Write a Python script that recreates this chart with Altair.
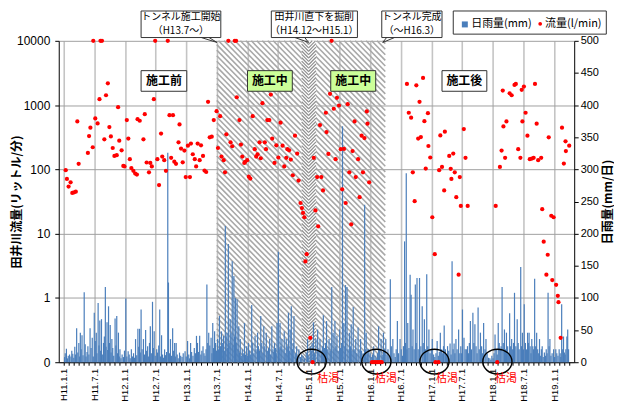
import math
import pandas as pd
import altair as alt

# ---------------- data ----------------
# day = days elapsed since 1999-01-01 (H11.1.1)
# flow in l/min ; 0 = dried up (枯渇) ; 10000 = off-scale top
flow_obs = [
    (12, 97), (19, 71), (29, 54), (41, 63), (51, 43), (62, 44), (72, 45), (81, 557), (89, 122),
    (144, 180), (151, 330), (159, 445), (173, 221), (176, 10000), (188, 621), (202, 519), (213, 1234),
    (219, 10000), (228, 10000), (242, 293), (252, 1423), (263, 2183), (272, 455), (281, 326), (292, 215),
    (302, 162), (316, 166), (324, 928), (331, 280), (345, 198), (355, 113), (362, 111), (376, 584),
    (385, 301), (394, 144), (403, 105), (415, 95), (426, 86), (436, 83), (440, 605), (453, 571),
    (475, 293), (483, 723), (494, 128), (508, 90), (516, 126), (525, 111), (537, 1234), (545, 10000),
    (558, 144), (568, 57), (580, 360), (587, 158), (599, 139), (609, 95), (620, 10000), (630, 698),
    (640, 151), (651, 698), (659, 132), (669, 122), (684, 264), (690, 501), (699, 211), (709, 129),
    (719, 196), (727, 76), (740, 234), (752, 76), (758, 252), (769, 172), (781, 144), (789, 111),
    (798, 252), (810, 139), (818, 237), (830, 162), (839, 96), (849, 91), (860, 1125), (870, 315),
    (882, 323), (894, 584), (911, 805), (919, 215), (932, 673), (940, 158), (953, 139), (961, 90),
    (969, 351), (981, 10000), (994, 264), (1004, 229), (1019, 10000), (1027, 10000), (1031, 1325),
    (1047, 584), (1056, 243), (1064, 158), (1076, 126), (1081, 131), (1093, 139), (1103, 77),
    (1112, 72), (1126, 673), (1138, 206), (1147, 158), (1155, 172), (1167, 264), (1174, 149),
    (1184, 1070), (1198, 264), (1205, 206), (1213, 584), (1225, 584), (1234, 1459), (1242, 301),
    (1256, 126), (1267, 237), (1279, 153), (1292, 532), (1304, 234), (1314, 111), (1326, 151),
    (1333, 206), (1343, 198), (1353, 142), (1365, 81), (1378, 335), (1391, 176), (1399, 67),
    (1411, 30), (1419, 25), (1426, 21), (1434, 18), (1440, 3.7), (1448, 4.8), (1469, 0.24),
    (1483, 0), (1490, 151), (1500, 23), (1510, 76), (1516, 13), (1527, 489), (1535, 76), (1545, 47),
    (1562, 760), (1566, 380), (1577, 174), (1587, 1496), (1596, 10000), (1609, 877), (1620, 144),
    (1628, 1297), (1640, 986), (1651, 206), (1659, 49), (1670, 208), (1680, 30), (1692, 1033),
    (1702, 90), (1713, 14), (1721, 193), (1733, 557), (1740, 76), (1754, 144), (1763, 37),
    (1775, 335), (1783, 90), (1792, 307), (1806, 796), (1810, 514), (1820, 63),
    (1837, 0), (1849, 0), (1860, 0), (1872, 0), (1884, 0), (1895, 0),
    (2045, 2138), (2056, 760), (2070, 636), (2080, 90), (2091, 32), (2101, 2032), (2112, 301),
    (2120, 1125), (2128, 318), (2141, 2648), (2149, 563), (2157, 103), (2170, 750), (2173, 231),
    (2184, 153), (2196, 18), (2211, 4.8), (2215, 0), (2233, 0), (2237, 97), (2244, 338), (2254, 109),
    (2267, 47), (2271, 386), (2297, 162), (2306, 102), (2310, 71), (2321, 176), (2330, 90),
    (2339, 37), (2353, 2.3), (2360, 76), (2366, 27), (2384, 424), (2394, 151), (2407, 27),
    (2574, 27), (2583, 0), (2599, 109), (2609, 196), (2616, 1683), (2620, 466), (2630, 151),
    (2638, 557), (2657, 1528), (2669, 1423), (2686, 2061), (2694, 2138), (2708, 206), (2721, 151),
    (2729, 1726), (2733, 557), (2742, 1941), (2752, 760), (2763, 335), (2777, 144), (2789, 147),
    (2800, 151), (2808, 2138), (2818, 514), (2827, 139), (2845, 151), (2851, 24), (2860, 7.5),
    (2876, 2.3), (2884, 4.7), (2890, 315), (2905, 19), (2911, 1.9), (2919, 18), (2934, 1.6),
    (2944, 1.08), (2948, 0.86), (2961, 0.24), (2969, 445), (2980, 123), (2990, 273), (2992, 193),
    (3012, 234),
]

# daily rainfall (mm/day): the visible peaks ...
rain_peaks = [
    (16, 21), (35, 12), (54, 13), (77, 53), (99, 46), (109, 42), (122, 109), (144, 25), (157, 53),
    (170, 38), (182, 77), (194, 46), (205, 92), (215, 65), (225, 67), (237, 30), (248, 117),
    (258, 62), (267, 87), (277, 58), (287, 36), (306, 68), (316, 72), (326, 46), (335, 20),
    (370, 99), (384, 17), (403, 20), (428, 36), (442, 52), (452, 52), (461, 82), (475, 36),
    (488, 50), (500, 25), (516, 56), (529, 94), (539, 48), (554, 20), (572, 82), (583, 42),
    (601, 20), (620, 326), (624, 124), (636, 36), (649, 53), (661, 30), (670, 30), (690, 15),
    (723, 17), (738, 33), (756, 30), (791, 41), (810, 41), (830, 25), (853, 121), (864, 46),
    (878, 38), (888, 61), (899, 48), (917, 36), (928, 72), (940, 48), (952, 41), (963, 212),
    (973, 46), (981, 184), (992, 67), (1004, 157), (1014, 134), (1023, 100), (1033, 98),
    (1043, 56), (1052, 36), (1077, 61), (1101, 30), (1120, 89), (1140, 41), (1155, 46),
    (1174, 72), (1192, 56), (1207, 46), (1227, 36), (1240, 56), (1256, 30), (1271, 61),
    (1279, 172), (1289, 61), (1300, 36), (1314, 48), (1326, 36), (1339, 77), (1349, 51),
    (1356, 87), (1372, 72), (1388, 25), (1401, 20), (1426, 10), (1453, 36), (1469, 25),
    (1488, 62), (1502, 36), (1513, 51), (1527, 36), (1547, 73), (1566, 64), (1581, 36),
    (1597, 117), (1605, 46), (1616, 64), (1628, 41), (1644, 51), (1661, 367), (1669, 61),
    (1679, 120), (1688, 117), (1702, 46), (1713, 59), (1725, 86), (1740, 36), (1754, 54),
    (1769, 36), (1793, 245), (1802, 46), (1818, 20), (1847, 25), (1876, 56), (1891, 36),
    (1905, 46), (1919, 36), (1946, 129), (1961, 36), (1988, 64), (2004, 36), (2031, 188),
    (2041, 294), (2050, 61), (2064, 136), (2070, 105), (2081, 51), (2095, 121), (2105, 131),
    (2120, 131), (2136, 87), (2149, 67), (2163, 137), (2176, 51), (2196, 36), (2225, 33),
    (2244, 46), (2263, 25), (2267, 57), (2287, 25), (2302, 29), (2314, 157), (2326, 29),
    (2337, 36), (2353, 51), (2376, 82), (2385, 38), (2399, 20), (2423, 64), (2438, 77),
    (2450, 59), (2469, 85), (2483, 46), (2502, 61), (2516, 36), (2531, 7), (2570, 43),
    (2589, 61), (2612, 117), (2626, 51), (2638, 46), (2657, 76), (2669, 36), (2686, 108),
    (2702, 67), (2723, 148), (2733, 46), (2744, 90), (2764, 46), (2773, 46), (2789, 36),
    (2806, 130), (2818, 46), (2835, 36), (2851, 25), (2864, 15), (2886, 108), (2897, 36),
    (2919, 20), (2932, 20), (2952, 20), (2967, 90), (2983, 15), (2992, 20), (3003, 51),
]
# ... and the dense small daily amounts between them
rain_small = [
    (5, 8), (9, 14), (22, 6), (27, 10), (43, 9), (48, 18), (60, 7), (66, 24), (71, 12), (84, 15),
    (90, 30), (95, 9), (104, 20), (115, 11), (128, 28), (133, 9), (139, 16), (150, 12), (163, 22),
    (176, 9), (188, 33), (198, 14), (210, 26), (220, 18), (230, 12), (242, 40), (252, 24),
    (262, 19), (272, 30), (282, 15), (292, 22), (298, 10), (311, 26), (321, 14), (331, 9),
    (341, 6), (348, 12), (356, 8), (362, 18), (376, 9), (390, 12), (396, 6), (410, 9), (416, 14),
    (422, 7), (435, 11), (447, 24), (456, 15), (467, 20), (481, 12), (494, 18), (506, 9),
    (511, 30), (522, 14), (534, 22), (545, 10), (559, 15), (566, 26), (577, 9), (589, 12),
    (595, 7), (607, 11), (613, 16), (630, 14), (642, 10), (655, 18), (665, 9), (676, 12),
    (682, 6), (697, 10), (705, 8), (712, 14), (730, 9), (745, 12), (750, 6), (762, 16), (770, 10),
    (778, 22), (785, 14), (797, 30), (803, 16), (817, 12), (823, 18), (836, 14), (842, 10),
    (848, 20), (858, 30), (870, 26), (883, 14), (893, 22), (905, 30), (910, 18),
    (922, 20), (934, 25), (945, 30), (957, 18), (967, 40), (977, 22), (986, 30), (997, 45),
    (1008, 26), (1018, 40), (1028, 30), (1038, 20), (1047, 15), (1058, 10), (1064, 20),
    (1070, 14), (1083, 12), (1090, 25), (1096, 10), (1108, 18), (1114, 12), (1126, 30),
    (1133, 14), (1146, 20), (1160, 25), (1167, 18), (1180, 30), (1186, 14), (1198, 25),
    (1213, 18), (1220, 22), (1233, 12), (1247, 20), (1252, 16), (1262, 22), (1266, 14),
    (1284, 20), (1295, 25), (1307, 20), (1320, 14), (1332, 25), (1344, 18), (1362, 20),
    (1367, 30), (1380, 14), (1394, 10), (1410, 8), (1418, 12), (1435, 6), (1445, 15), (1460, 10),
    (1475, 18), (1480, 30), (1495, 14), (1520, 20), (1535, 18), (1541, 25), (1553, 22),
    (1560, 30), (1573, 20), (1588, 18), (1593, 30), (1610, 20), (1622, 25), (1635, 18),
    (1650, 22), (1656, 30), (1675, 25), (1694, 20), (1708, 25), (1718, 18), (1731, 20),
    (1746, 14), (1760, 20), (1775, 18), (1785, 14), (1797, 20), (1808, 12), (1812, 20),
    (1826, 14), (1832, 8), (1840, 12), (1855, 10), (1862, 6), (1869, 14), (1882, 20), (1898, 12),
    (1912, 20), (1926, 12), (1932, 20), (1938, 10), (1952, 25), (1968, 14), (1975, 8), (1981, 20),
    (1995, 14), (2011, 20), (2018, 10), (2024, 25), (2036, 30), (2045, 20), (2057, 22), (2076, 25),
    (2088, 20), (2100, 30), (2112, 20), (2128, 25), (2142, 30), (2155, 20), (2169, 25),
    (2183, 14), (2190, 20), (2204, 12), (2211, 8), (2218, 14), (2232, 10), (2238, 16), (2252, 20),
    (2258, 14), (2274, 20), (2280, 12), (2294, 18), (2308, 12), (2320, 20), (2331, 14),
    (2344, 20), (2360, 14), (2366, 25), (2371, 14), (2392, 20), (2406, 25), (2412, 14),
    (2417, 30), (2430, 20), (2444, 30), (2457, 25), (2463, 14), (2476, 20), (2490, 25),
    (2496, 14), (2510, 20), (2523, 14), (2539, 6), (2545, 4), (2551, 10), (2558, 6), (2564, 14),
    (2577, 20), (2583, 12), (2595, 30), (2601, 20), (2606, 25), (2619, 30), (2632, 20),
    (2645, 25), (2651, 14), (2663, 25), (2675, 20), (2680, 30), (2694, 25), (2708, 30),
    (2714, 20), (2728, 25), (2739, 20), (2751, 30), (2758, 20), (2769, 30), (2779, 25),
    (2784, 14), (2795, 25), (2800, 20), (2812, 25), (2824, 20), (2830, 14), (2842, 10),
    (2846, 20), (2857, 8), (2870, 10), (2875, 20), (2880, 14), (2892, 25), (2903, 10),
    (2910, 14), (2925, 8), (2938, 14), (2945, 10), (2958, 14), (2962, 8), (2973, 20), (2978, 40),
    (2988, 12), (2998, 40), (3008, 20),
]

# construction periods (days since 1999-01-01)
construction_period = (912, 1916)      # H13.7 ~ H16.3
under_river_period = (1418, 1503)      # H14.12 ~ H15.1

stage_labels = ["施工前", "施工中", "施工中", "施工後"]
stage_fill = ["#ffffff", "#ccff99", "#ccff99", "#ffffff"]
callout_line1 = ["トンネル施工開始", "田井川直下を掘削", "トンネル完成"]
callout_line2 = ["（H13.7～）", "（H14.12～H15.1）", "（～H16.3）"]
dry_label = "枯渇"
legend_labels = ["日雨量(mm)", "流量(l/min)"]

# ---------------- layout helpers ----------------
JP = "Noto Sans CJK JP"
NUM = "Liberation Sans"
W, H = 518, 323
X_END = 3012
PX_DAY = W / X_END
PX_LY = H / 5.0

flow_df = pd.DataFrame(flow_obs, columns=["day", "lpm"])
flow_df["ly"] = [math.log10(v) if v > 0 else -1.0 for v in flow_df["lpm"]]
rain_df = pd.DataFrame(rain_peaks + rain_small, columns=["day", "mm"])


def stripes(d0, d1, step_px, down):
    xa, xb = d0 * PX_DAY, d1 * PX_DAY
    rows = []
    if down:   # "\"
        c = xa - H
        while c < xb:
            x1, x2 = max(xa, c), min(xb, c + H)
            if x2 > x1:
                rows.append({"day": x1 / PX_DAY, "day2": x2 / PX_DAY,
                             "ly": 4 - (x1 - c) / PX_LY, "ly2": 4 - (x2 - c) / PX_LY})
            c += step_px
    else:      # "/"
        c = xa
        while c < xb + H:
            x1, x2 = max(xa, c - H), min(xb, c)
            if x2 > x1:
                rows.append({"day": x1 / PX_DAY, "day2": x2 / PX_DAY,
                             "ly": 4 - (c - x1) / PX_LY, "ly2": 4 - (c - x2) / PX_LY})
            c += step_px
    return pd.DataFrame(rows)


c0, c1 = construction_period
u0, u1 = under_river_period
um = (u0 + u1) / 2
outer_df = stripes(c0, c1, 5.6, True)
inner_df = pd.concat([stripes(u0, um, 3.4, True), stripes(um, u1, 3.4, False)])

month_days = [(d - pd.Timestamp("1999-01-01")).days
              for d in pd.date_range("1999-01-01", "2007-04-01", freq="MS")]
HALF = "month(datetime(1999,0,1+datum.value)) % 6 == 0"
x_axis = alt.Axis(
    values=month_days,
    labelExpr=f"({HALF}) ? 'H' + (year(datetime(1999,0,1+datum.value)) - 1988) + '.' + "
              f"(month(datetime(1999,0,1+datum.value)) + 1) + '.1' : ''",
    labelAngle=-90, labelFont=NUM, labelFontSize=9.5, labelColor="black", labelOverlap=False,
    labelPadding=3, tickSize=3, tickColor="black", domainColor="black",
    grid=True, gridColor="#c4c4c4", gridWidth=1.6,
    gridOpacity={"condition": {"test": HALF, "value": 1}, "value": 0},
    title=None,
)
yl_axis = alt.Axis(
    orient="left", values=[-1, 0, 1, 2, 3, 4],
    labelExpr="datum.value < -0.5 ? '0' : format(pow(10, datum.value), 'd')",
    labelFont=NUM, labelFontSize=12, labelColor="black", labelPadding=5,
    tickSize=4, tickColor="black", domainColor="black",
    grid=True, gridColor="#a0a0a0", gridWidth=1,
    title="田井川流量(リットル/分)", titleFont=JP, titleFontSize=12, titleFontWeight="bold",
    titleColor="black", titleX=-42, titleY=H / 2, titleAlign="center", titleBaseline="middle",
    titleAngle=270,
)
yr_axis = alt.Axis(
    orient="right", values=list(range(0, 501, 50)),
    labelFont=NUM, labelFontSize=11, labelColor="black", labelPadding=2,
    tickSize=4, tickColor="black", domainColor="black", grid=False,
    title="日雨量(mm/日)", titleFont=JP, titleFontSize=12, titleFontWeight="bold",
    titleColor="black", titleX=33, titleY=H / 2, titleAlign="center", titleBaseline="middle",
    titleAngle=270,
)

x_scale = alt.Scale(domain=[0, X_END], nice=False, zero=False)
yl_scale = alt.Scale(domain=[-1, 4], nice=False, zero=False)
yr_scale = alt.Scale(domain=[0, 500], nice=False, zero=True)


def X():
    return alt.X("day:Q", scale=x_scale, axis=x_axis)


def YL(axis=None):
    return alt.Y("ly:Q", scale=yl_scale, axis=axis)


# ---------------- back layer: hatching (carries the left axis) ----------------
hatch = alt.Chart(outer_df).mark_rule(color="#a8a8a8", strokeWidth=1.6).encode(
    x=X(), x2="day2:Q", y=YL(yl_axis), y2="ly2:Q")
inner_bg = alt.Chart(pd.DataFrame([{"day": u0, "day2": u1, "ly": -1, "ly2": 4}])).mark_rect(
    color="white").encode(x=X(), x2="day2:Q", y=YL(yl_axis), y2="ly2:Q")
chevron = alt.Chart(inner_df).mark_rule(color="#8f8f8f", strokeWidth=1.2).encode(
    x=X(), x2="day2:Q", y=YL(yl_axis), y2="ly2:Q")
back = alt.layer(hatch, inner_bg, chevron)

# ---------------- rainfall bars ----------------
rain = alt.Chart(rain_df).mark_bar(size=1.2, color="#4a7ebb").encode(
    x=X(), y=alt.Y("mm:Q", scale=yr_scale, axis=yr_axis))

# ---------------- annotations (positions in data units) ----------------
stage_box = pd.DataFrame({
    "day": [461, 1095, 1591, 2254], "day2": [733, 1362, 1859, 2521],
    "ly": [3.215] * 4, "ly2": [3.536] * 4, "fill": stage_fill,
})
stage_txt = pd.DataFrame({
    "day": [597, 1228, 1725, 2387], "ly": [3.376] * 4, "text": stage_labels})
stage_rect = alt.Chart(stage_box).mark_rect(stroke="#333333", strokeWidth=1).encode(
    x=X(), x2="day2:Q", y=YL(), y2="ly2:Q", fill=alt.Fill("fill:N", scale=None))
stage_text = alt.Chart(stage_txt).mark_text(
    font=JP, fontSize=12, fontWeight="bold", color="black").encode(x=X(), y=YL(), text="text:N")

call_box = pd.DataFrame({
    "day": [461, 1237, 1895], "day2": [936, 1750, 2254], "ly": [4.051] * 3, "ly2": [4.464] * 3})
call_rect = alt.Chart(call_box).mark_rect(fill="white", stroke="#333333", strokeWidth=1).encode(
    x=X(), x2="day2:Q", y=YL(), y2="ly2:Q")
call_txt = pd.DataFrame({
    "day": [698, 1493, 2074] * 2, "ly": [4.372] * 3 + [4.150] * 3,
    "text": callout_line1 + callout_line2})
call_text = alt.Chart(call_txt).mark_text(font=JP, fontSize=10, color="black").encode(
    x=X(), y=YL(), text="text:N")
pointer_df = pd.DataFrame({
    "day": [820, 866, 1378, 1436, 1924, 1971],
    "ly": [4.051] * 6,
    "day2": [913, 913, 1459, 1459, 1901, 1901],
    "ly2": [3.975] * 6,
})
pointers = alt.Chart(pointer_df).mark_rule(color="#333333", strokeWidth=1).encode(
    x=X(), x2="day2:Q", y=YL(), y2="ly2:Q")

legend_box = pd.DataFrame({"day": [2321], "day2": [3233], "ly": [4.104], "ly2": [4.464]})
leg_rect = alt.Chart(legend_box).mark_rect(fill="white", stroke="#333333", strokeWidth=1).encode(
    x=X(), x2="day2:Q", y=YL(), y2="ly2:Q")
leg_sq = alt.Chart(pd.DataFrame({"day": [2390], "ly": [4.255]})).mark_square(
    size=36, color="#4a7ebb", opacity=1).encode(x=X(), y=YL())
leg_dot = alt.Chart(pd.DataFrame({"day": [2839], "ly": [4.265]})).mark_circle(
    size=14, color="#ff0000", opacity=1).encode(x=X(), y=YL())
leg_text = alt.Chart(pd.DataFrame({"day": [2428, 2868], "ly": [4.255] * 2, "text": legend_labels})
                     ).mark_text(font=JP, fontSize=11, align="left", color="black").encode(
    x=X(), y=YL(), text="text:N")

points = alt.Chart(flow_df).mark_circle(size=18, color="#ff0000", opacity=1).encode(
    x=X(), y=YL())

ELLIPSE = "M-1,0 A1,0.85 0 1,1 1,0 A1,0.85 0 1,1 -1,0 Z"
dry_df = pd.DataFrame({"day": [1477, 1863, 2209, 2584], "ly": [-0.99] * 4})
dry_ring = alt.Chart(dry_df).mark_point(
    shape=ELLIPSE, size=860, filled=False, stroke="black", strokeWidth=1.4, opacity=1).encode(
    x=X(), y=YL())
dry_txt = pd.DataFrame({"day": [1576, 1920, 2283, 2635], "ly": [-1.263] * 4, "text": [dry_label] * 4})
dry_text = alt.Chart(dry_txt).mark_text(font=JP, fontSize=11, color="#ff0000").encode(
    x=X(), y=YL(), text="text:N")

front = alt.layer(stage_rect, stage_text, call_rect, call_text, pointers,
                  leg_rect, leg_sq, leg_dot, leg_text, points, dry_ring, dry_text)

chart = (
    alt.layer(back, rain, front)
    .resolve_scale(y="independent")
    .properties(width=W, height=H,
                padding={"left": 51, "top": 32, "right": 40, "bottom": 40},
                autosize=alt.AutoSizeParams(type="none"))
    .configure_view(stroke=None)
)

chart.save("out.html", embed_options={"renderer": "svg", "actions": False})
